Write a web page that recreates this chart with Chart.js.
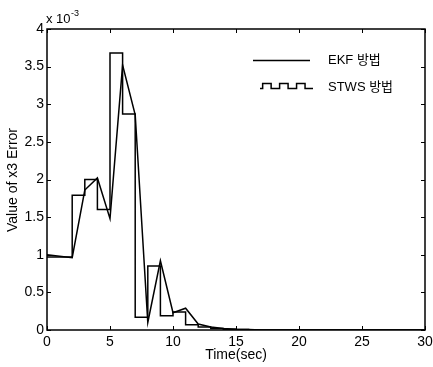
<!DOCTYPE html>
<html>
<head>
<meta charset="utf-8">
<script src="https://cdn.jsdelivr.net/npm/chart.js@4/dist/chart.umd.min.js"></script>
<style>
html,body{margin:0;padding:0;background:#fff;}
#wrap{width:433px;height:367px;position:relative;}
</style>
</head>
<body>
<div id="wrap"><canvas id="c" width="433" height="367"></canvas></div>
<script>
// Time axis (seconds)
const timeSec = [0,1,2,3,4,5,6,7,8,9,10,11,12,13,14,15,16,17,18,19,20,21,22,23,24,25,26,27,28,29,30];
// Values in units of 1e-3
const ekfValues = [1.00,0.98,0.96,1.86,2.02,1.48,3.52,2.86,0.10,0.92,0.23,0.29,0.08,0.04,0.02,0.01,0.005,0,0,0,0,0,0,0,0,0,0,0,0,0,0];
const stwsValues = [0.97,0.97,1.79,2.00,1.60,3.68,2.87,0.17,0.85,0.19,0.24,0.07,0.04,0.02,0.01,0.005,0,0,0,0,0,0,0,0,0,0,0,0,0,0,0];
const xTicks = [0,5,10,15,20,25,30];
const yTicks = [0,0.5,1,1.5,2,2.5,3,3.5,4];
const seriesNames = ['EKF 방법','STWS 방법'];
const xTitle = 'Time(sec)';
const yTitle = 'Value of x3 Error';

const FONT = '"Liberation Sans", Arial, "Noto Sans CJK KR", sans-serif';

const framePlugin = {
  id: 'frame',
  afterDatasetsDraw(chart) {
    const ctx = chart.ctx;
    const a = chart.chartArea;
    const xs = chart.scales.x, ys = chart.scales.y;
    ctx.save();
    ctx.strokeStyle = '#000';
    ctx.lineWidth = 1.5;
    ctx.strokeRect(a.left, a.top, a.right - a.left, a.bottom - a.top);
    ctx.lineWidth = 1;
    const tl = 4;
    ctx.beginPath();
    xTicks.forEach(v => {
      const p = Math.round(xs.getPixelForValue(v)) + 0.5;
      ctx.moveTo(p, a.bottom); ctx.lineTo(p, a.bottom - tl);
      ctx.moveTo(p, a.top); ctx.lineTo(p, a.top + tl);
    });
    yTicks.forEach(v => {
      const p = Math.round(ys.getPixelForValue(v)) + 0.5;
      ctx.moveTo(a.left, p); ctx.lineTo(a.left + tl, p);
      ctx.moveTo(a.right, p); ctx.lineTo(a.right - tl, p);
    });
    ctx.stroke();

    // exponent
    ctx.fillStyle = '#000';
    ctx.textBaseline = 'alphabetic';
    ctx.textAlign = 'left';
    ctx.font = '13px ' + FONT;
    ctx.fillText('x 10', a.left - 1, 23);
    const w = ctx.measureText('x 10').width;
    ctx.font = '9px ' + FONT;
    ctx.fillText('-3', a.left - 0.5 + w, 16);

    // axis titles
    ctx.font = '14px ' + FONT;
    ctx.textAlign = 'center';
    ctx.textBaseline = 'middle';
    ctx.fillText(xTitle, 236, 355);
    ctx.save();
    ctx.translate(13, 180);
    ctx.rotate(-Math.PI / 2);
    ctx.fillText(yTitle, 0, 0);
    ctx.restore();

    // legend
    ctx.lineWidth = 1.5;
    ctx.beginPath();
    ctx.moveTo(253, 60.5); ctx.lineTo(310, 60.5);
    ctx.stroke();
    // square-wave sample
    const y0 = 88.5, y1 = 83.5;
    const xs0 = 260;
    const seg = 53 / 10;
    ctx.beginPath();
    ctx.moveTo(xs0, y0);
    let x = xs0 + seg * 0.5;
    ctx.lineTo(x, y0);
    for (let i = 0; i < 3; i++) {
      ctx.lineTo(x, y1); x += seg * 1.6; ctx.lineTo(x, y1);
      ctx.lineTo(x, y0); x += seg * 1.6; if (i < 2) ctx.lineTo(x, y0);
    }
    ctx.lineTo(xs0 + 53, y0);
    ctx.stroke();
    ctx.font = '13px ' + FONT;
    ctx.textAlign = 'left';
    ctx.textBaseline = 'middle';
    ctx.fillText(seriesNames[0], 328, 60);
    ctx.fillText(seriesNames[1], 328, 87);
    ctx.restore();
  }
};

new Chart(document.getElementById('c'), {
  type: 'line',
  data: {
    datasets: [
      {
        label: seriesNames[0],
        data: timeSec.map((t, i) => ({x: t, y: ekfValues[i]})),
        borderColor: '#000',
        borderWidth: 1.5,
        pointRadius: 0,
        tension: 0,
        fill: false
      },
      {
        label: seriesNames[1],
        data: timeSec.map((t, i) => ({x: t, y: stwsValues[i]})),
        borderColor: '#000',
        borderWidth: 1.5,
        pointRadius: 0,
        stepped: 'before',
        fill: false
      }
    ]
  },
  options: {
    responsive: false,
    animation: false,
    devicePixelRatio: 1,
    layout: {padding: {left: 0, right: 8, top: 29, bottom: 0}},
    plugins: {legend: {display: false}, tooltip: {enabled: false}},
    scales: {
      x: {
        type: 'linear', min: 0, max: 30,
        afterBuildTicks: s => { s.ticks = xTicks.map(v => ({value: v})); },
        afterFit: s => { s.height = 37; s.paddingLeft = 0; s.paddingRight = 0; },
        grid: {display: false, drawTicks: false},
        border: {display: false},
        ticks: {padding: 4, color: '#000', font: {size: 14, family: FONT}, callback: v => String(v), maxRotation: 0}
      },
      y: {
        type: 'linear', min: 0, max: 4,
        afterBuildTicks: s => { s.ticks = yTicks.map(v => ({value: v})); },
        afterFit: s => { s.width = 47; s.paddingTop = 0; s.paddingBottom = 0; },
        grid: {display: false, drawTicks: false},
        border: {display: false},
        ticks: {padding: 3, color: '#000', font: {size: 14, family: FONT}, callback: v => String(v)}
      }
    }
  },
  plugins: [framePlugin]
});
</script>
</body>
</html>
